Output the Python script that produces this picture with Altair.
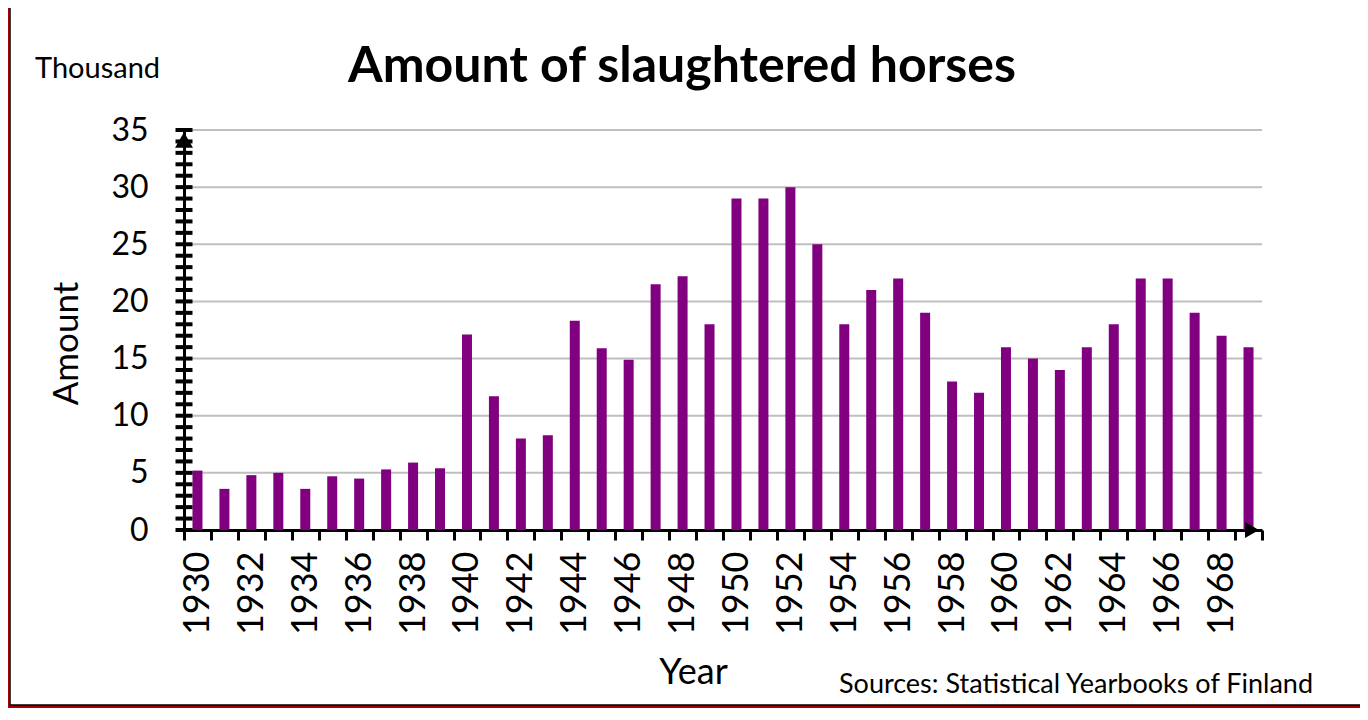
import altair as alt
import pandas as pd

# ---- data ----
years = [1930, 1931, 1932, 1933, 1934, 1935, 1936, 1937, 1938, 1939,
         1940, 1941, 1942, 1943, 1944, 1945, 1946, 1947, 1948, 1949,
         1950, 1951, 1952, 1953, 1954, 1955, 1956, 1957, 1958, 1959,
         1960, 1961, 1962, 1963, 1964, 1965, 1966, 1967, 1968, 1969]
amounts = [5.2, 3.6, 4.8, 5.0, 3.6, 4.7, 4.5, 5.3, 5.9, 5.4,
           17.1, 11.7, 8.0, 8.3, 18.3, 15.9, 14.9, 21.5, 22.2, 18.0,
           29.0, 29.0, 30.0, 25.0, 18.0, 21.0, 22.0, 19.0, 13.0, 12.0,
           16.0, 15.0, 14.0, 16.0, 18.0, 22.0, 22.0, 19.0, 17.0, 16.0]
y_label_values = [0, 5, 10, 15, 20, 25, 30, 35]
y_minor_ticks = list(range(0, 36))
grid_values = [5, 10, 15, 20, 25, 30, 35]

title_text = "Amount of slaughtered horses"
unit_text = "Thousand"
source_text = "Sources: Statistical Yearbooks of Finland"

FONT = "Lato"
PURPLE = "#800080"
RED = "#A80000"

W, H = 1078, 400

df = pd.DataFrame({"year": [str(y) for y in years], "value": amounts})
grid_df = pd.DataFrame({"value": grid_values})
tick_df = pd.DataFrame({"value": y_minor_ticks})
one = pd.DataFrame({"k": [0]})

y_axis = alt.Axis(
    values=y_label_values,
    ticks=False,
    tickSize=0,
    grid=False,
    domainColor="black",
    domainWidth=3,
    labelFont=FONT,
    labelFontSize=32,
    labelColor="black",
    labelPadding=36,
    title="Amount",
    titleFont=FONT,
    titleFontSize=35,
    titleFontWeight="normal",
    titleColor="black",
    titleAngle=270,
    titleX=-118,
    titleY=213,
    titleAlign="center",
    titleBaseline="middle",
)
y_scale = alt.Scale(domain=[0, 35], nice=False)


def y_enc():
    return alt.Y("value:Q", scale=y_scale, axis=y_axis)


grid = alt.Chart(grid_df).mark_rule(color="#BFBFBF", strokeWidth=2).encode(
    y=y_enc()
)

bars = alt.Chart(df).mark_bar(color=PURPLE, width=10).encode(
    x=alt.X(
        "year:O",
        sort=None,
        scale=alt.Scale(paddingInner=0, paddingOuter=0),
        axis=alt.Axis(
            title="Year",
            labelExpr="toNumber(datum.value) % 2 == 0 ? datum.label : ''",
            labelAngle=-90,
            labelAlign="right",
            labelBaseline="middle",
            labelFont=FONT,
            labelFontSize=36,
            labelColor="black",
            labelPadding=11,
            tickSize=10,
            tickWidth=3,
            tickColor="black",
            tickBand="extent",
            domainColor="black",
            domainWidth=3,
            grid=False,
            titleFont=FONT,
            titleFontSize=36,
            titleFontWeight="normal",
            titleColor="black",
            titleX=509,
            titleY=153,
            titleAlign="center",
            titleBaseline="alphabetic",
        ),
    ),
    y=y_enc(),
)

minor = alt.Chart(tick_df).mark_tick(
    color="black", thickness=4, size=17, opacity=1
).encode(
    y=y_enc(),
    x=alt.value(0),
)

arrow_y = alt.Chart(one).mark_point(
    shape="triangle-up", filled=True, size=320, color="black", opacity=1
).encode(x=alt.value(0), y=alt.value(10))

arrow_x = alt.Chart(one).mark_point(
    shape="triangle-right", filled=True, size=260, color="black", opacity=1
).encode(x=alt.value(W - 10), y=alt.value(H))

title = alt.Chart(one).mark_text(
    text=title_text, font=FONT, fontSize=50, fontWeight="bold", color="black",
    align="center", baseline="alphabetic"
).encode(x=alt.value(498), y=alt.value(-48))

unit = alt.Chart(one).mark_text(
    text=unit_text, font=FONT, fontSize=29, color="black",
    align="left", baseline="alphabetic"
).encode(x=alt.value(-149), y=alt.value(-52))

source = alt.Chart(one).mark_text(
    text=source_text, font=FONT, fontSize=27, color="black",
    align="right", baseline="alphabetic"
).encode(x=alt.value(1129), y=alt.value(563))

# frame pieces (red border with thin black inner line)
frame_left = alt.Chart(one).mark_rect(color=RED).encode(
    x=alt.value(-176), x2=alt.value(-174.5), y=alt.value(-122), y2=alt.value(578)
)
frame_bottom = alt.Chart(one).mark_rect(color=RED).encode(
    x=alt.value(-176), x2=alt.value(1176), y=alt.value(575), y2=alt.value(578)
)
line_left = alt.Chart(one).mark_rule(color="black", strokeWidth=1.5).encode(
    x=alt.value(-174), y=alt.value(-122), y2=alt.value(575)
)
line_bottom = alt.Chart(one).mark_rule(color="black", strokeWidth=1.5).encode(
    x=alt.value(-174), x2=alt.value(1176), y=alt.value(575)
)

chart = alt.layer(
    grid, bars, minor, arrow_y, arrow_x, title, unit, source,
    frame_left, frame_bottom, line_left, line_bottom
).properties(
    width=W,
    height=H,
    padding={"left": 176, "top": 122, "right": 98, "bottom": 178},
    autosize=alt.AutoSizeParams(type="none"),
    background="white",
).configure_view(stroke="transparent")

chart.save("out.html", embed_options={"renderer": "svg", "actions": False})
